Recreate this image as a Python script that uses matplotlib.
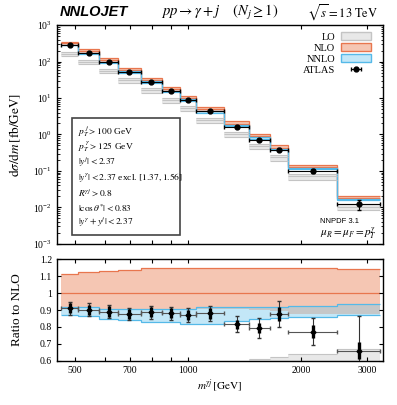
import numpy as np
import matplotlib
matplotlib.use('Agg')
import matplotlib.pyplot as plt
from matplotlib.patches import Patch, Rectangle
from matplotlib.ticker import FixedLocator, FixedFormatter, NullFormatter, LogLocator

plt.rcParams['font.family'] = 'serif'
plt.rcParams['font.serif'] = ['Liberation Serif', 'DejaVu Serif']
plt.rcParams['mathtext.fontset'] = 'stix'

# m_gamma_j bins (GeV)
edges = np.array([460, 510, 580, 650, 750, 850, 950, 1050, 1250, 1450, 1650, 1850, 2500, 3250])

# ATLAS data, dsigma/dm [fb/GeV]
data_xs = np.array([290, 173, 98, 52, 28, 15.2, 8.8, 4.3, 1.62, 0.72, 0.38, 0.10, 0.012])
# data / NLO and its uncertainties (stat, total)
data_ratio = np.array([0.911, 0.901, 0.891, 0.877, 0.887, 0.881, 0.871, 0.881, 0.816, 0.793, 0.876, 0.773, 0.661])
data_stat = np.array([0.03, 0.03, 0.03, 0.03, 0.03, 0.03, 0.032, 0.032, 0.027, 0.03, 0.039, 0.039, 0.05])
data_tot = np.array([0.039, 0.039, 0.039, 0.036, 0.038, 0.039, 0.042, 0.043, 0.046, 0.058, 0.078, 0.079, 0.206])

# NLO central prediction [fb/GeV]
nlo_xs = np.array([318, 192, 110, 59.3, 31.6, 17.3, 10.1, 4.88, 1.99, 0.91, 0.434, 0.129, 0.0182])

# scale bands, as ratio to NLO central
nlo_up = np.array([1.113, 1.123, 1.133, 1.139, 1.147, 1.148, 1.148, 1.15, 1.15, 1.15, 1.15, 1.148, 1.145])
nlo_dn = np.array([0.915, 0.915, 0.905, 0.905, 0.90, 0.905, 0.90, 0.905, 0.905, 0.90, 0.895, 0.876, 0.876])
nnlo_up = np.array([0.917, 0.917, 0.909, 0.909, 0.905, 0.909, 0.905, 0.915, 0.918, 0.916, 0.918, 0.926, 0.934])
nnlo_dn = np.array([0.869, 0.865, 0.848, 0.842, 0.828, 0.828, 0.818, 0.82, 0.835, 0.846, 0.852, 0.861, 0.871])
lo_up = np.array([0.585, 0.585, 0.585, 0.585, 0.585, 0.585, 0.59, 0.59, 0.595, 0.61, 0.625, 0.64, 0.668])
lo_c = np.array([0.51, 0.51, 0.51, 0.51, 0.51, 0.51, 0.515, 0.515, 0.52, 0.53, 0.54, 0.55, 0.57])
lo_dn = np.array([0.44, 0.44, 0.44, 0.43, 0.43, 0.43, 0.43, 0.43, 0.43, 0.44, 0.44, 0.45, 0.46])

cuts = [r'$p_T^{\,j} > 100$ GeV',
        r'$p_T^{\,\gamma} > 125$ GeV',
        r'$|y^{j}| < 2.37$',
        r'$|y^{\gamma}| < 2.37$ excl. $[1.37, 1.56]$',
        r'$R^{\gamma j} > 0.8$',
        r'$|\cos\theta^{*}| < 0.83$',
        r'$|y^{\gamma} + y^{j}| < 2.37$']

lo_fill, lo_line = '#e8e8e8', '#c4c4c4'
nlo_fill, nlo_line = '#f5c6b3', '#e8764e'
nnlo_fill, nnlo_line = '#c3e7f7', '#55b9e8'
ovl_fill = '#c5c7c8'

centers = np.sqrt(edges[:-1] * edges[1:])
xerr = [centers - edges[:-1], edges[1:] - centers]

fig = plt.figure(figsize=(3.97, 4.05), dpi=100)
ax1 = fig.add_axes([0.143, 0.398, 0.821, 0.540])
ax2 = fig.add_axes([0.143, 0.109, 0.821, 0.251])


def draw_bands(ax, scale):
    ax.stairs(lo_up * scale, edges, baseline=lo_dn * scale, fill=True, color=lo_fill, lw=0)
    for arr in (lo_up, lo_c, lo_dn):
        ax.hlines(arr * scale, edges[:-1], edges[1:], color=lo_line, lw=0.8)
    ax.stairs(nlo_up * scale, edges, baseline=nlo_dn * scale, fill=True, color=nlo_fill, lw=0)
    ax.stairs(nnlo_up * scale, edges, baseline=nnlo_dn * scale, fill=True, color=nnlo_fill, lw=0)
    lo_o = np.maximum(nlo_dn, nnlo_dn)
    hi_o = np.minimum(nlo_up, nnlo_up)
    ax.stairs(np.maximum(hi_o, lo_o) * scale, edges, baseline=lo_o * scale, fill=True, color=ovl_fill, lw=0)
    ax.stairs(nlo_up * scale, edges, baseline=None, color=nlo_line, lw=0.9)
    ax.stairs(np.ones(len(nlo_up)) * scale, edges, baseline=None, color=nlo_line, lw=0.9)
    ax.stairs(nnlo_up * scale, edges, baseline=None, color=nnlo_line, lw=0.9)
    ax.stairs(nnlo_dn * scale, edges, baseline=None, color=nnlo_line, lw=0.9)


# top panel
draw_bands(ax1, nlo_xs)
atlas = ax1.errorbar(centers, data_xs, xerr=xerr, fmt='o', color='black', ms=3.5,
                     lw=0.8, capsize=1.5, label='ATLAS')
ax1.errorbar(centers, data_xs, yerr=data_tot / data_ratio * data_xs, fmt='none',
             ecolor='black', lw=0.8, capsize=1.5)
ax1.set_yscale('log')
ax1.set_ylim(1e-3, 1e3)
ax1.set_ylabel(r'$\mathrm{d}\sigma/\mathrm{d}m\,[\mathrm{fb/GeV}]$', fontsize=9.5)

handles = [Patch(facecolor=lo_fill, edgecolor=lo_line, label='LO'),
           Patch(facecolor=nlo_fill, edgecolor=nlo_line, label='NLO'),
           Patch(facecolor=nnlo_fill, edgecolor=nnlo_line, label='NNLO'),
           atlas]
ax1.legend(handles=handles, loc='upper right', frameon=False, markerfirst=False,
           fontsize=7.5, handlelength=2.8, handleheight=0.8, labelspacing=0.12,
           borderaxespad=0.3, handletextpad=0.6, bbox_to_anchor=(0.985, 1.0))

ax1.add_patch(Rectangle((0.0466, 0.038), 0.332, 0.537, transform=ax1.transAxes,
                        facecolor='white', edgecolor='#444444', lw=1.2, zorder=5))
for i, s in enumerate(cuts):
    ax1.text(0.066, 0.513 - i * 0.0693, s, transform=ax1.transAxes, fontsize=6.8,
             va='center', ha='left', zorder=6)

ax1.text(0.808, 0.102, 'NNPDF 3.1', transform=ax1.transAxes, fontsize=5.5,
         family='Liberation Sans', va='center', ha='left')
ax1.text(0.808, 0.046, r'$\mu_R = \mu_F = p_T^{\gamma}$', transform=ax1.transAxes,
         fontsize=8, va='center', ha='left')

# ratio panel
draw_bands(ax2, np.ones(len(nlo_xs)))
ax2.errorbar(centers, data_ratio, xerr=xerr, fmt='none', ecolor='#555555', lw=0.8, capsize=1.5)
ax2.errorbar(centers, data_ratio, yerr=data_tot, fmt='none', ecolor='#333333', lw=0.8, capsize=1.5)
ax2.errorbar(centers, data_ratio, yerr=data_stat, fmt='D', color='black', ms=2.5, lw=2.4, capsize=0)
ax2.set_ylim(0.6, 1.2)
ax2.set_yticks([0.6, 0.7, 0.8, 0.9, 1.0, 1.1, 1.2])
ax2.set_yticklabels(['0.6', '0.7', '0.8', '0.9', '1', '1.1', '1.2'])
ax2.set_ylabel('Ratio to NLO', fontsize=9.5)
ax2.set_xlabel(r'$m^{\gamma j}\,[\mathrm{GeV}]$', fontsize=8, labelpad=2)

xt = [500, 600, 700, 800, 900, 1000, 2000, 3000]
xl = ['500', '', '700', '', '', '1000', '2000', '3000']
for ax in (ax1, ax2):
    ax.set_xscale('log')
    ax.set_xlim(447, 3300)
    ax.xaxis.set_major_locator(FixedLocator(xt))
    ax.xaxis.set_minor_locator(FixedLocator([]))
    ax.tick_params(which='both', direction='in', top=True, right=True, labelsize=7, length=3)
    ax.tick_params(which='minor', length=1.8)
    ax.yaxis.set_label_coords(-0.105, 0.5)
    for sp in ax.spines.values():
        sp.set_linewidth(1.0)
ax1.xaxis.set_major_formatter(NullFormatter())
ax2.xaxis.set_major_formatter(FixedFormatter(xl))
ax1.yaxis.set_minor_locator(LogLocator(base=10, subs=np.arange(2, 10), numticks=20))

fig.text(60 / 397, 1 - 12 / 405, 'NNLOJET', family='Liberation Sans', fontweight='bold',
         fontstyle='italic', fontsize=10.5, va='center', ha='left')
fig.text(220 / 397, 1 - 13 / 405, r'$pp \to \gamma + j \quad\; (N_j \geq 1)$',
         fontsize=10.5, va='center', ha='center')
fig.text(378 / 397, 1 - 13 / 405, r'$\sqrt{s} = 13\ \mathrm{TeV}$',
         fontsize=9, va='center', ha='right')

fig.savefig('out.png', dpi=100)
